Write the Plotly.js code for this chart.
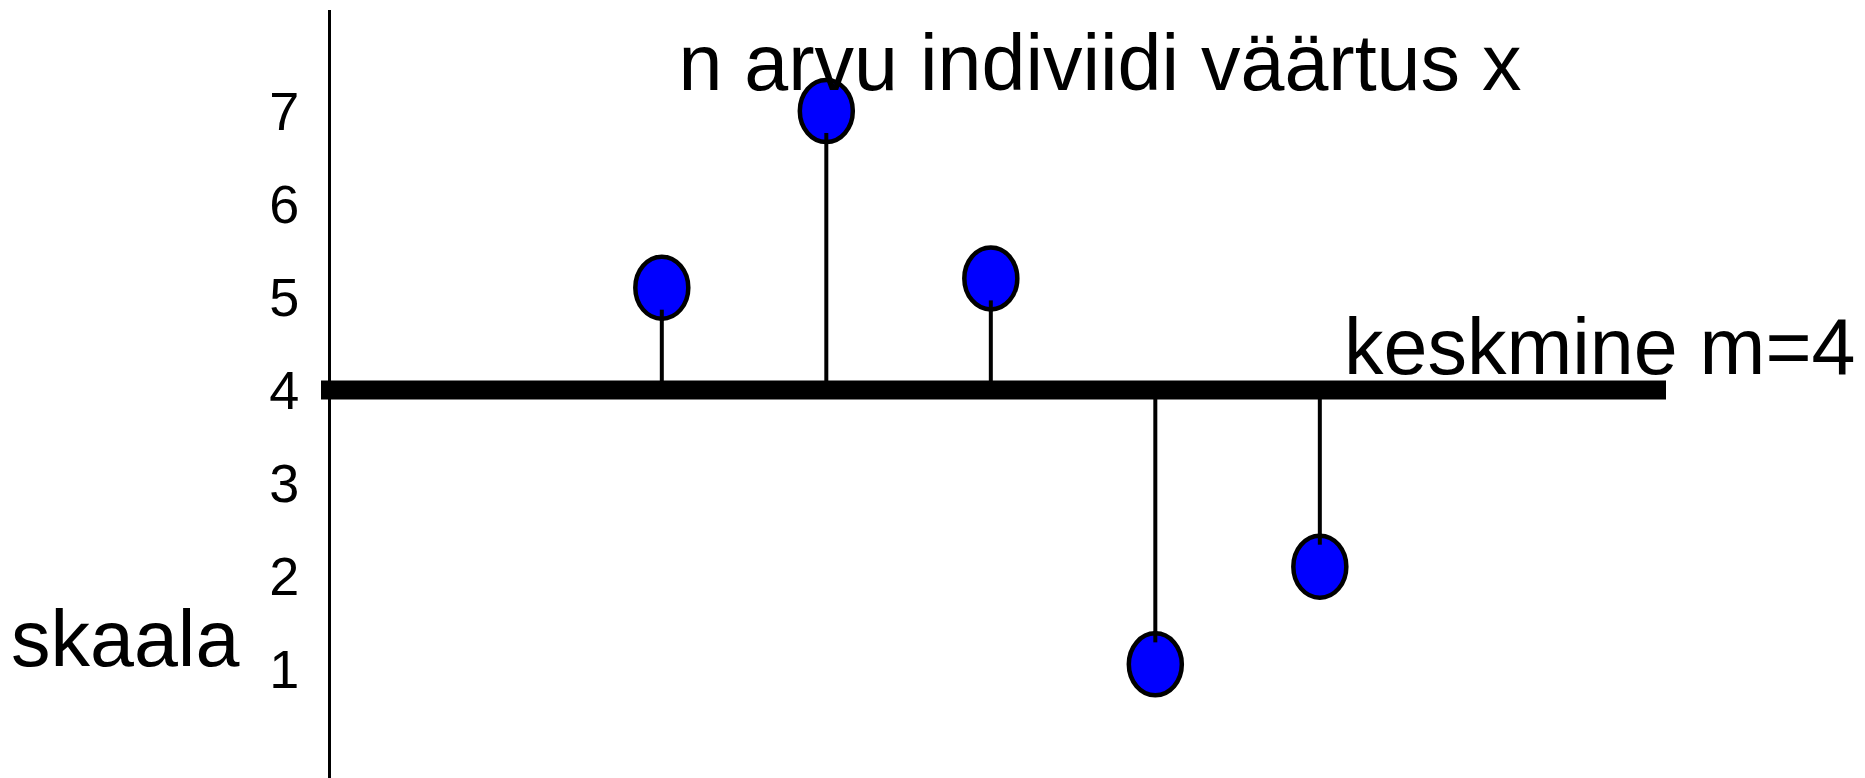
<!DOCTYPE html>
<html>
<head>
<meta charset="utf-8">
<script src="https://cdn.plot.ly/plotly-3.0.1.min.js"></script>
<style>
  html, body { margin: 0; padding: 0; background: #ffffff; }
  #chart { width: 1865px; height: 778px; }
</style>
</head>
<body>
<div id="chart"></div>
<script>
// ---- data ----
const individuals = [1, 2, 3, 4, 5];
const values = [5.1, 7, 5.2, 1.05, 2.1];
const meanValue = 4;
const yTickVals = [1, 2, 3, 4, 5, 6, 7];
const yTickText = ['1', '2', '3', '4', '5', '6', '7'];
const titleText = 'n arvu indiviidi väärtus x';
const meanLabel = 'keskmine m=4';
const scaleLabel = 'skaala';

// ---- styling ----
const FONT = 'Liberation Sans, Arial, Helvetica, sans-serif';
const W = 1865, H = 778;

// stems from the mean line to each value
const stemX = [], stemY = [];
individuals.forEach((xi, k) => {
  stemX.push(xi, xi, null);
  stemY.push(meanValue, values[k], null);
});

const traces = [
  {
    type: 'scatter', mode: 'lines',
    x: stemX, y: stemY,
    line: { color: '#000000', width: 4 },
    hoverinfo: 'skip', showlegend: false
  },
  {
    type: 'scatter', mode: 'markers',
    x: individuals, y: values,
    marker: { color: '#0000ff', size: 48, line: { width: 0 } },
    hovertemplate: 'indiviid %{x}: %{y}<extra></extra>',
    showlegend: false
  }
];

const shapes = [
  // mean line
  {
    type: 'line', xref: 'paper', yref: 'y',
    x0: 321 / W, x1: 1666 / W, y0: meanValue, y1: meanValue,
    line: { color: '#000000', width: 19 }, layer: 'above'
  }
];
// ellipse markers anchored at the data points
individuals.forEach((xi, k) => {
  shapes.push({
    type: 'circle', xref: 'x', yref: 'y',
    xsizemode: 'pixel', ysizemode: 'pixel',
    xanchor: xi, yanchor: values[k],
    x0: -26.5, x1: 26.5, y0: -31, y1: 31,
    fillcolor: '#0000ff',
    line: { color: '#000000', width: 4.5 },
    layer: 'above'
  });
});
// short stem end poking into each ellipse (drawn on top, as in the sketch)
individuals.forEach((xi, k) => {
  const s = values[k] > meanValue ? 1 : -1;
  shapes.push({
    type: 'line', xref: 'x', yref: 'y',
    xsizemode: 'pixel', ysizemode: 'pixel',
    xanchor: xi, yanchor: values[k],
    x0: 0, x1: 0, y0: -s * 33, y1: -s * 22,
    line: { color: '#000000', width: 4 },
    layer: 'above'
  });
});

const layout = {
  width: W, height: H,
  margin: { l: 0, r: 0, t: 10, b: 0, pad: 0 },
  paper_bgcolor: '#ffffff', plot_bgcolor: '#ffffff',
  showlegend: false,
  font: { family: FONT, color: '#000000' },
  title: {
    text: titleText,
    font: { family: FONT, size: 79, color: '#000000' },
    xref: 'container', yref: 'container',
    x: 1100 / W, xanchor: 'center',
    y: 1 - 90 / H, yanchor: 'bottom'
  },
  xaxis: {
    range: [-3.023, 8.314],
    visible: false, fixedrange: true
  },
  yaxis: {
    range: [-0.172, 8.086],
    anchor: 'free', position: 329 / W,
    showline: true, linecolor: '#000000', linewidth: 3,
    showgrid: false, zeroline: false,
    ticks: '', tickvals: yTickVals, ticktext: yTickText,
    tickfont: { family: FONT, size: 54, color: '#000000' },
    ticklabelstandoff: 18,
    fixedrange: true
  },
  shapes: shapes,
  annotations: [
    {
      text: meanLabel, showarrow: false,
      xref: 'paper', yref: 'paper',
      x: 1858 / W, xanchor: 'right',
      y: (778 - 346) / 768, yanchor: 'middle',
      font: { family: FONT, size: 79, color: '#000000' }
    },
    {
      text: scaleLabel, showarrow: false,
      xref: 'paper', yref: 'paper',
      x: 9 / W, xanchor: 'left',
      y: (778 - 638) / 768, yanchor: 'middle',
      font: { family: FONT, size: 79, color: '#000000' }
    }
  ]
};

Plotly.newPlot('chart', traces, layout, { displayModeBar: false, responsive: false });
</script>
</body>
</html>
